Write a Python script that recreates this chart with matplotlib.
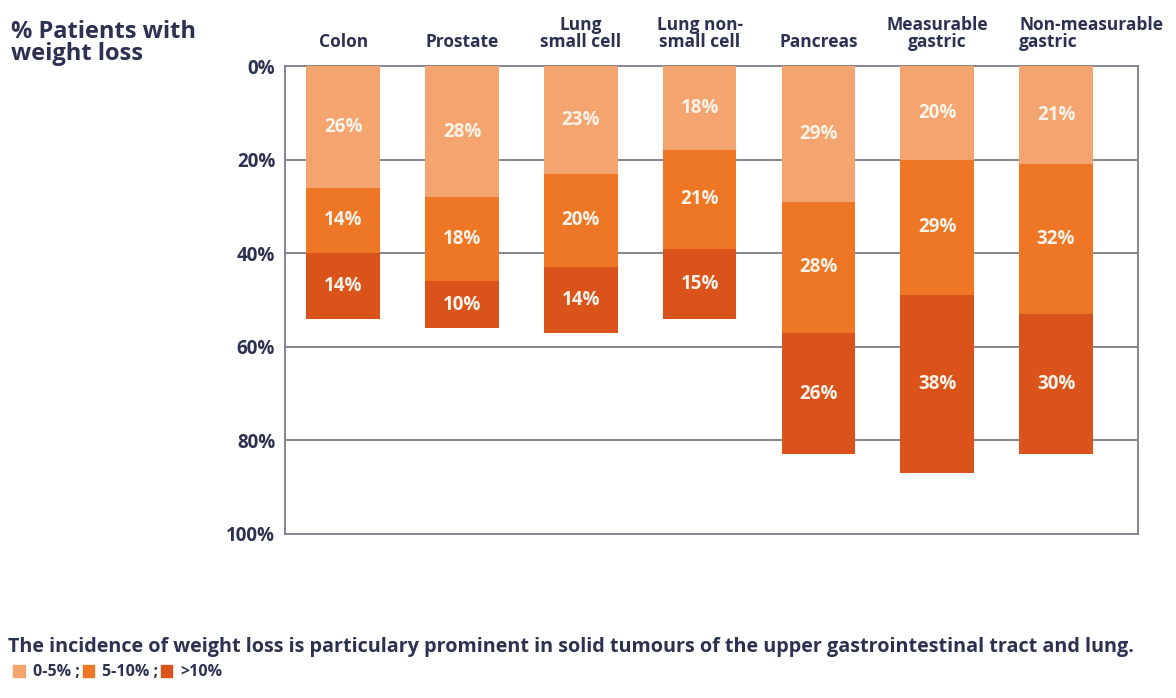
# Weight loss incidence by tumour type - stacked bars hanging from 0% at top

import numpy as np
import matplotlib.pyplot as plt
from matplotlib.patches import Patch

# ------ Données ------

categories = ["Colon", "Prostate", "Lung\nsmall cell", "Lung non-\nsmall cell",
              "Pancreas", "Measurable\ngastric", "Non-measurable\ngastric"]
loss_0_5 = [26, 28, 23, 18, 29, 20, 21]
loss_5_10 = [14, 18, 20, 21, 28, 29, 32]
loss_10_plus = [14, 10, 14, 15, 26, 38, 30]
series_labels = ["0-5% ;", "5-10% ;", ">10%"]
y_ticks = [0, 20, 40, 60, 80, 100]

# ------ Style ------

NAVY = "#2c3151"
GRID = "#7a7d8a"
COLORS = ["#f4a46e", "#ee7726", "#d9531b"]
plt.rcParams["font.family"] = ["Open Sans", "DejaVu Sans"]
plt.rcParams["font.weight"] = "bold"

fig = plt.figure(figsize=(11.76, 6.98), dpi=100)
ax = fig.add_axes([0.2423, 0.235, 0.7254, 0.6704])

x = np.arange(len(categories))
width = 0.62
series = [loss_0_5, loss_5_10, loss_10_plus]
bottom = np.zeros(len(categories))

for vals, col in zip(series, COLORS):
    vals = np.array(vals)
    ax.bar(x, vals, width, bottom=bottom, color=col, zorder=3)
    for xi, b, v in zip(x, bottom, vals):
        ax.text(xi, b + v / 2, f"{v}%", ha="center", va="center",
                color="#fdf3ea", fontsize=13.5, fontweight="bold", zorder=4)
    bottom = bottom + vals

ax.set_ylim(100, 0)
ax.set_xlim(-0.49, len(categories) - 1 + 0.69)
ax.set_yticks(y_ticks)
ax.set_yticklabels([f"{t}%" for t in y_ticks], color=NAVY, fontsize=13.5, fontweight="bold")
ax.tick_params(axis="y", length=0, pad=7)
ax.set_xticks([])
for t in y_ticks[1:-1]:
    ax.axhline(t, color=GRID, lw=1.3, zorder=1)
for s in ax.spines.values():
    s.set_color(GRID)
    s.set_linewidth(1.3)

# étiquettes des catégories en haut
for i, c in enumerate(categories):
    if i == len(categories) - 1:
        ax.text(i - width / 2, -3.2, c, ha="left", va="bottom", color=NAVY,
                fontsize=12.5, fontweight="bold", linespacing=0.9)
    else:
        ax.text(i, -3.2, c, ha="center", va="bottom", color=NAVY,
                fontsize=12.5, fontweight="bold", linespacing=0.9)

fig.text(0.009, 0.972, "% Patients with\nweight loss", ha="left", va="top",
         color=NAVY, fontsize=17, fontweight="bold", linespacing=0.9)

fig.text(0.007, 0.073, "The incidence of weight loss is particulary prominent in solid "
         "tumours of the upper gastrointestinal tract and lung.",
         ha="left", va="center", color=NAVY, fontsize=14.2, fontweight="bold")

handles = [Patch(color=c) for c in COLORS]
fig.legend(handles, series_labels, loc="center left", bbox_to_anchor=(0.006, 0.037),
           ncol=3, frameon=False, handlelength=0.7, handleheight=0.8,
           handletextpad=0.5, columnspacing=0.2, borderaxespad=0,
           prop={"size": 11.5, "weight": "bold"}, labelcolor=NAVY)

fig.savefig("out.png", dpi=100)
